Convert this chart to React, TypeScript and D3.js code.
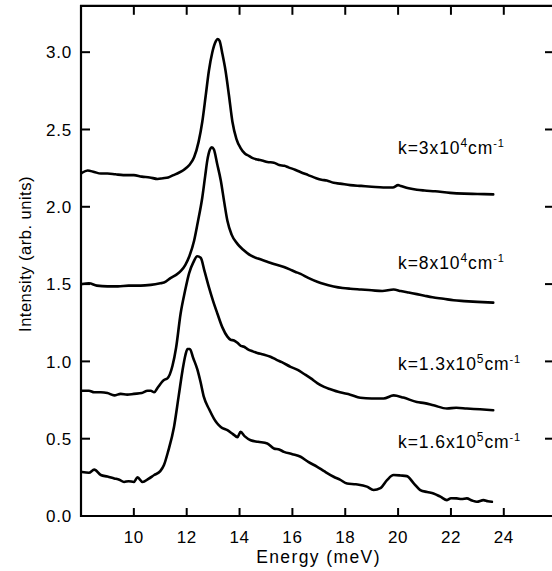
import React from "react";
import * as d3 from "d3";

// ---- Data ----
const xTicks = [10, 12, 14, 16, 18, 20, 22, 24];
const yTicks = [0, 0.5, 1.0, 1.5, 2.0, 2.5, 3.0];

const e1 = [8.04,8.25,8.5,8.75,9.0,9.3,9.6,10.0,10.3,10.6,10.9,11.1,11.3,11.5,11.7,11.9,12.1,12.28,12.45,12.59,12.72,12.84,12.97,13.1,13.17,13.24,13.35,13.47,13.6,13.73,13.88,14.04,14.2,14.35,14.5,14.7,14.85,15.05,15.3,15.5,15.7,15.85,16.1,16.3,16.6,16.9,17.1,17.3,17.56,17.8,18.19,18.6,19.0,19.44,19.8,20.0,20.1,20.4,20.71,21.0,21.4,21.97,22.5,23.0,23.6];
const i1 = [2.22,2.235,2.225,2.215,2.215,2.21,2.205,2.205,2.195,2.19,2.18,2.185,2.19,2.205,2.22,2.24,2.27,2.32,2.42,2.55,2.72,2.88,3.0,3.07,3.085,3.075,2.99,2.88,2.72,2.55,2.44,2.38,2.345,2.33,2.315,2.305,2.3,2.29,2.285,2.27,2.265,2.255,2.24,2.225,2.205,2.185,2.175,2.17,2.155,2.15,2.14,2.135,2.13,2.125,2.125,2.14,2.135,2.12,2.11,2.105,2.1,2.09,2.085,2.083,2.08];

const e2 = [8.04,8.3,8.6,9.0,9.4,9.8,10.26,10.64,11.0,11.14,11.4,11.6,11.78,11.95,12.1,12.28,12.42,12.59,12.7,12.78,12.88,12.95,13.03,13.15,13.29,13.42,13.54,13.7,13.92,14.15,14.42,14.7,15.05,15.3,15.68,15.9,16.1,16.31,16.6,16.94,17.2,17.56,17.9,18.19,18.6,19.0,19.4,19.83,20.1,20.4,20.71,21.0,21.3,21.72,22.1,22.5,23.0,23.6];
const i2 = [1.5,1.505,1.49,1.485,1.485,1.49,1.49,1.495,1.505,1.51,1.54,1.56,1.585,1.625,1.68,1.78,1.9,2.06,2.2,2.3,2.37,2.385,2.37,2.28,2.17,2.03,1.91,1.82,1.76,1.72,1.685,1.665,1.645,1.63,1.61,1.595,1.58,1.566,1.54,1.515,1.5,1.485,1.475,1.47,1.465,1.46,1.455,1.465,1.455,1.445,1.435,1.425,1.415,1.405,1.395,1.39,1.385,1.38];

const e3 = [8.04,8.3,8.5,8.75,9.0,9.26,9.5,9.75,10.0,10.3,10.52,10.64,10.77,10.9,11.14,11.27,11.46,11.6,11.77,11.93,12.09,12.25,12.4,12.53,12.68,12.84,13.0,13.16,13.35,13.54,13.66,13.79,13.92,14.05,14.17,14.3,14.5,14.67,14.9,15.17,15.4,15.6,15.93,16.2,16.43,16.7,16.94,17.2,17.44,17.8,18.19,18.57,19.0,19.45,19.83,20.2,20.71,21.0,21.34,21.85,22.2,22.6,23.1,23.6];
const i3 = [0.81,0.81,0.8,0.8,0.795,0.78,0.79,0.785,0.79,0.795,0.81,0.81,0.8,0.83,0.88,0.89,0.97,1.09,1.31,1.45,1.57,1.64,1.68,1.67,1.58,1.48,1.39,1.31,1.22,1.16,1.14,1.135,1.12,1.1,1.095,1.08,1.065,1.055,1.045,1.03,1.01,0.995,0.965,0.945,0.92,0.89,0.86,0.835,0.82,0.8,0.785,0.765,0.76,0.76,0.78,0.766,0.737,0.73,0.716,0.695,0.7,0.695,0.69,0.684];

const e4 = [8.04,8.3,8.5,8.75,9.0,9.26,9.45,9.63,9.8,10.0,10.14,10.33,10.55,10.77,11.0,11.14,11.3,11.52,11.7,11.84,11.95,12.03,12.12,12.25,12.4,12.52,12.65,12.85,13.03,13.15,13.29,13.54,13.75,13.92,14.04,14.2,14.42,14.7,15.05,15.3,15.5,15.68,16.0,16.31,16.6,16.94,17.2,17.56,17.8,18.07,18.4,18.82,19.07,19.33,19.58,19.83,20.1,20.33,20.6,20.84,21.1,21.34,21.6,21.85,22.0,22.22,22.4,22.6,22.8,22.98,23.23,23.4,23.55];
const i4 = [0.285,0.28,0.3,0.265,0.255,0.243,0.235,0.22,0.225,0.22,0.25,0.22,0.24,0.265,0.29,0.33,0.42,0.576,0.78,0.94,1.04,1.08,1.08,1.02,0.95,0.87,0.77,0.69,0.63,0.6,0.576,0.555,0.53,0.51,0.544,0.515,0.49,0.48,0.469,0.437,0.43,0.415,0.4,0.383,0.35,0.318,0.29,0.254,0.235,0.21,0.205,0.19,0.168,0.18,0.232,0.265,0.262,0.258,0.21,0.168,0.155,0.146,0.125,0.103,0.115,0.114,0.11,0.114,0.1,0.092,0.103,0.095,0.092];

const seriesE = [e1, e2, e3, e4];
const seriesI = [i1, i2, i3, i4];

const labelMain = ["k=3x10", "k=8x10", "k=1.3x10", "k=1.6x10"];
const labelExp = ["4", "4", "5", "5"];
const labelE = [20.0, 20.0, 20.0, 20.0];
const labelI = [2.342, 1.6, 0.942, 0.439];

const W = 552;
const H = 571;
const FONT = "'Liberation Sans', Arial, Helvetica, sans-serif";

export default function App() {
  const x = d3.scaleLinear().domain([8, 25.9]).range([81, 554]);
  const y = d3.scaleLinear().domain([0, 3.3]).range([516, 5.8]);
  const line = d3
    .line<[number, number]>()
    .x((d) => x(d[0]))
    .y((d) => y(d[1]))
    .curve(d3.curveMonotoneX);

  const x0 = x(8);
  const x1 = x(25.9);
  const yB = y(0);
  const yT = y(3.3);

  return (
    <svg
      width={W}
      height={H}
      style={{ position: "absolute", left: 0, top: 0, background: "#fff" }}
      fontFamily={FONT}
    >
      <rect x={0} y={0} width={W} height={H} fill="#fff" />
      {/* frame */}
      <path
        d={`M${x1},${yT}H${x0}V${yB}H${x1}V${yT}`}
        fill="none"
        stroke="#000"
        strokeWidth={2.2}
      />
      {/* x ticks bottom & top */}
      {xTicks.map((t) => (
        <g key={"xt" + t}>
          <line x1={x(t)} x2={x(t)} y1={yB} y2={yB - 8} stroke="#000" strokeWidth={2} />
          <line x1={x(t)} x2={x(t)} y1={yT} y2={yT + 9} stroke="#000" strokeWidth={2} />
          <text
            x={x(t)}
            y={543}
            textAnchor="middle"
            fontSize={17}
            letterSpacing={0.6}
            fill="#000"
          >
            {t}
          </text>
        </g>
      ))}
      {/* y ticks left & right */}
      {yTicks.map((t) => (
        <g key={"yt" + t}>
          <line x1={x0} x2={x0 + 9} y1={y(t)} y2={y(t)} stroke="#000" strokeWidth={2} />
          <line x1={x1} x2={x1 - 9} y1={y(t)} y2={y(t)} stroke="#000" strokeWidth={2} />
          <text
            x={72}
            y={y(t)}
            dy="0.36em"
            textAnchor="end"
            fontSize={17}
            letterSpacing={0.8}
            fill="#000"
          >
            {t.toFixed(1)}
          </text>
        </g>
      ))}
      {/* axis titles */}
      <text
        x={318.5}
        y={563}
        textAnchor="middle"
        fontSize={17.5}
        letterSpacing={1.4}
        fill="#000"
      >
        Energy (meV)
      </text>
      <text
        transform={`translate(31,254) rotate(-90)`}
        textAnchor="middle"
        fontSize={16.5}
        letterSpacing={0.5}
        fill="#000"
      >
        Intensity (arb. units)
      </text>
      {/* curves */}
      {seriesE.map((es, k) => {
        const pts = es.map((e, j) => [e, seriesI[k][j]] as [number, number]);
        return (
          <path
            key={"c" + k}
            d={line(pts) || ""}
            fill="none"
            stroke="#000"
            strokeWidth={2.6}
            strokeLinejoin="round"
            strokeLinecap="round"
          />
        );
      })}
      {/* labels */}
      {labelMain.map((m, k) => (
        <text
          key={"l" + k}
          x={x(labelE[k])}
          y={y(labelI[k])}
          fontSize={17.5}
          letterSpacing={0.9}
          fill="#000"
        >
          {m}
          <tspan fontSize={12} dy={-7}>
            {labelExp[k]}
          </tspan>
          <tspan dy={7}>cm</tspan>
          <tspan fontSize={11} dy={-7}>
            -1
          </tspan>
        </text>
      ))}
    </svg>
  );
}
